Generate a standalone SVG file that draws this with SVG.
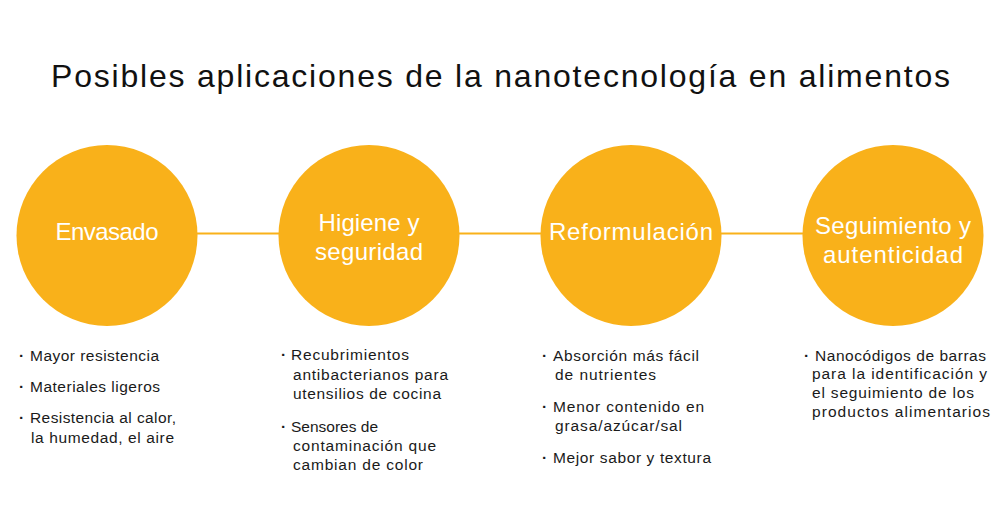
<svg xmlns="http://www.w3.org/2000/svg" width="1000" height="512" viewBox="0 0 1000 512">
<style>
.c{fill:#F9B11A}
.ln{stroke:#F9B11A;stroke-width:2;fill:none}
.t{font-family:"Liberation Sans",Arial,sans-serif;font-size:32px;fill:#111}
.lab{font-family:"Liberation Sans",Arial,sans-serif;font-size:24px;fill:#fff;text-anchor:middle}
.b{font-family:"Liberation Sans",Arial,sans-serif;font-size:15.5px;fill:#1a1a1a}
.d{font-weight:bold}
</style>
<rect width="1000" height="512" fill="#fff"/>
<text class="t" x="51" y="87" textLength="899" lengthAdjust="spacing">Posibles aplicaciones de la nanotecnología en alimentos</text>
<g id="connectors">
<line class="ln" x1="196" y1="233.5" x2="280" y2="233.5"/>
<line class="ln" x1="458" y1="233.5" x2="542" y2="233.5"/>
<line class="ln" x1="720" y1="233.5" x2="804" y2="233.5"/>
</g>
<g id="envasado">
<circle class="c" cx="107" cy="235.5" r="90.5"/>
<text class="lab" x="107" y="240" textLength="103" lengthAdjust="spacing">Envasado</text>
<g class="b">
<text class="d" x="19" y="361">·</text><text x="30" y="361" textLength="129" lengthAdjust="spacing">Mayor resistencia</text>
<text class="d" x="19" y="392">·</text><text x="30" y="392" textLength="130" lengthAdjust="spacing">Materiales ligeros</text>
<text class="d" x="19" y="423">·</text><text x="30" y="423" textLength="146" lengthAdjust="spacing">Resistencia al calor,</text>
<text x="31" y="443" textLength="143" lengthAdjust="spacing">la humedad, el aire</text>
</g>
</g>
<g id="higiene">
<circle class="c" cx="369" cy="235.5" r="90.5"/>
<text class="lab" x="369" y="231" textLength="101" lengthAdjust="spacing">Higiene y</text>
<text class="lab" x="369" y="260" textLength="108" lengthAdjust="spacing">seguridad</text>
<g class="b">
<text class="d" x="281" y="360">·</text><text x="291" y="360" textLength="118" lengthAdjust="spacing">Recubrimientos</text>
<text x="293" y="380" textLength="155" lengthAdjust="spacing">antibacterianos para</text>
<text x="293" y="399" textLength="148" lengthAdjust="spacing">utensilios de cocina</text>
<text class="d" x="281" y="432">·</text><text x="291" y="432">Sensores de</text>
<text x="293" y="451" textLength="143" lengthAdjust="spacing">contaminación que</text>
<text x="293" y="470" textLength="130" lengthAdjust="spacing">cambian de color</text>
</g>
</g>
<g id="reformulacion">
<circle class="c" cx="631" cy="235.5" r="90.5"/>
<text class="lab" x="631" y="240" textLength="164" lengthAdjust="spacing">Reformulación</text>
<g class="b">
<text class="d" x="542" y="361">·</text><text x="553" y="361" textLength="146" lengthAdjust="spacing">Absorción más fácil</text>
<text x="555" y="380" textLength="101" lengthAdjust="spacing">de nutrientes</text>
<text class="d" x="542" y="412">·</text><text x="553" y="412" textLength="151" lengthAdjust="spacing">Menor contenido en</text>
<text x="555" y="431" textLength="127" lengthAdjust="spacing">grasa/azúcar/sal</text>
<text class="d" x="542" y="463">·</text><text x="553" y="463" textLength="158" lengthAdjust="spacing">Mejor sabor y textura</text>
</g>
</g>
<g id="seguimiento">
<circle class="c" cx="893" cy="235.5" r="90.5"/>
<text class="lab" x="893" y="234" textLength="156" lengthAdjust="spacing">Seguimiento y</text>
<text class="lab" x="893" y="263" textLength="140" lengthAdjust="spacing">autenticidad</text>
<g class="b">
<text class="d" x="804" y="361">·</text><text x="815" y="361" textLength="171" lengthAdjust="spacing">Nanocódigos de barras</text>
<text x="812" y="379" textLength="175" lengthAdjust="spacing">para la identificación y</text>
<text x="812" y="398" textLength="162" lengthAdjust="spacing">el seguimiento de los</text>
<text x="812" y="417" textLength="178" lengthAdjust="spacing">productos alimentarios</text>
</g>
</g>
</svg>
